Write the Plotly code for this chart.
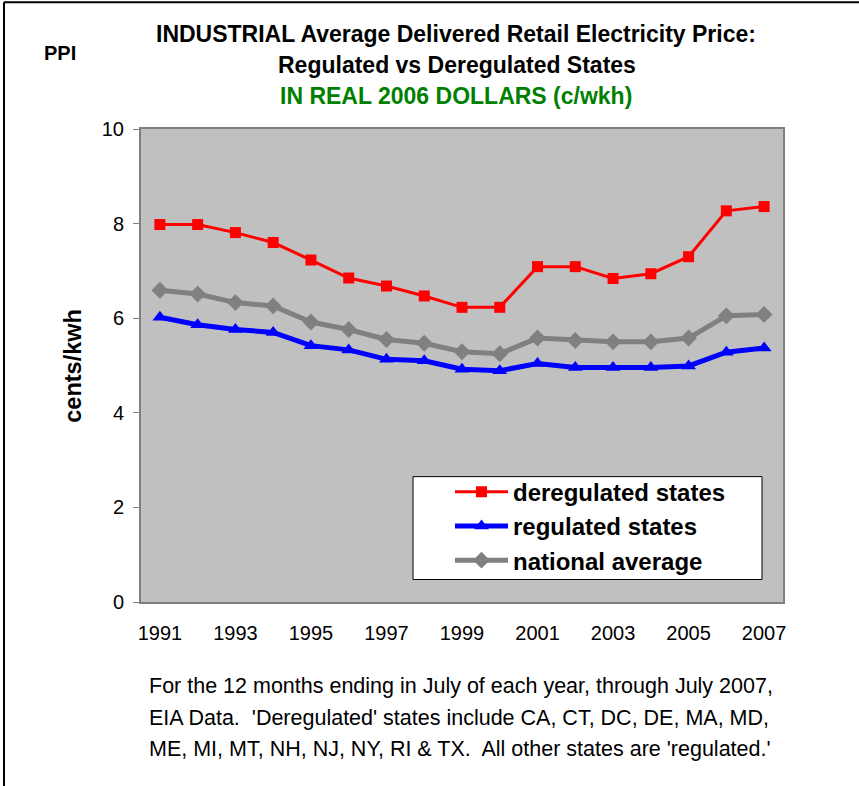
import plotly.graph_objects as go

years = list(range(1991, 2008))
deregulated = [7.98, 7.98, 7.81, 7.60, 7.23, 6.85, 6.68, 6.47, 6.23, 6.23,
               7.09, 7.09, 6.84, 6.94, 7.30, 8.27, 8.36]
regulated = [6.02, 5.86, 5.76, 5.70, 5.42, 5.33, 5.13, 5.10, 4.92, 4.89,
             5.04, 4.96, 4.96, 4.96, 4.99, 5.28, 5.37]
national = [6.59, 6.51, 6.33, 6.26, 5.92, 5.76, 5.55, 5.47, 5.29, 5.25,
            5.58, 5.53, 5.50, 5.50, 5.58, 6.05, 6.08]
tick_years = list(range(1991, 2008, 2))
y_ticks = [0, 2, 4, 6, 8, 10]

W, H = 859, 786
L, R, T, B = 141, 783, 129, 602.5

def px(x):
    return (x - L) / (R - L)

def py(y):
    return (B - y) / (B - T)

FONT = "Liberation Sans, Arial, sans-serif"

fig = go.Figure()
fig.add_trace(go.Scatter(x=years, y=deregulated, name="deregulated states",
                         mode="lines+markers",
                         line=dict(color="#FF0000", width=3),
                         marker=dict(symbol="square", size=11, color="#FF0000")))
fig.add_trace(go.Scatter(x=years, y=regulated, name="regulated states",
                         mode="lines+markers",
                         line=dict(color="#0000FF", width=5),
                         marker=dict(symbol="triangle-up", size=13, color="#0000FF")))
fig.add_trace(go.Scatter(x=years, y=national, name="national average",
                         mode="lines+markers",
                         line=dict(color="#808080", width=5),
                         marker=dict(symbol="diamond", size=13, color="#808080")))

shapes = [
    dict(type="rect", xref="paper", yref="paper", x0=px(413), x1=px(762),
         y0=py(580), y1=py(477), fillcolor="white",
         line=dict(color="black", width=1), layer="above"),
    dict(type="line", xref="paper", yref="paper", x0=px(4), x1=px(4),
         y0=py(790), y1=py(2), line=dict(color="black", width=2)),
    dict(type="line", xref="paper", yref="paper", x0=px(4), x1=px(870),
         y0=py(2), y1=py(2), line=dict(color="black", width=2)),
]

ann = []
def add_text(text, x, y, size, color="black", bold=False, xanchor="center", angle=0):
    t = f"<b>{text}</b>" if bold else text
    ann.append(dict(text=t, x=px(x), y=py(y), xref="paper", yref="paper",
                    showarrow=False, xanchor=xanchor, yanchor="middle",
                    textangle=angle,
                    font=dict(family=FONT, size=size, color=color)))

add_text("INDUSTRIAL Average Delivered Retail Electricity Price:", 456, 34, 23, bold=True)
add_text("Regulated vs Deregulated States", 457, 65, 23, bold=True)
add_text("IN REAL 2006 DOLLARS (c/wkh)", 456, 96, 23, color="#008000", bold=True)
add_text("PPI", 60, 53, 20, bold=True)
add_text("cents/kwh", 73, 366, 23.5, bold=True, angle=-90)
add_text("For the 12 months ending in July of each year, through July 2007,", 147, 687, 21.5, xanchor="left")
add_text("EIA Data.  'Deregulated' states include CA, CT, DC, DE, MA, MD,", 147, 719, 21.5, xanchor="left")
add_text("ME, MI, MT, NH, NJ, NY, RI &amp; TX.  All other states are 'regulated.'", 147, 750, 21.5, xanchor="left")

fig.update_layout(
    width=W, height=H,
    margin=dict(l=L, r=W - R, t=T, b=H - B, pad=0),
    paper_bgcolor="white", plot_bgcolor="#C0C0C0",
    font=dict(family=FONT, size=20, color="black"),
    showlegend=True,
    legend=dict(x=px(450), y=py(470), xanchor="left", yanchor="top",
                bgcolor="rgba(0,0,0,0)", borderwidth=0, itemwidth=53,
                font=dict(family=FONT, size=24, color="black", weight="bold")),
    shapes=shapes,
    annotations=ann,
    xaxis=dict(range=[1990.5, 2007.5], tickmode="array", tickvals=tick_years,
               ticktext=[str(v) for v in tick_years], showgrid=False, zeroline=False,
               showline=True, linecolor="#808080", linewidth=2, mirror=True,
               ticks="", tickfont=dict(size=20), ticklabelstandoff=12),
    yaxis=dict(range=[0, 10], tickmode="array", tickvals=y_ticks, showgrid=False,
               zeroline=False, showline=True, linecolor="#808080", linewidth=2,
               mirror=True, ticks="outside", ticklen=6, tickcolor="#808080",
               tickwidth=1, tickfont=dict(size=20), ticklabelstandoff=5),
)

fig.write_html("out.html", config={"displayModeBar": False},
               post_script="document.body.style.margin='0';document.body.style.overflow='hidden';")
